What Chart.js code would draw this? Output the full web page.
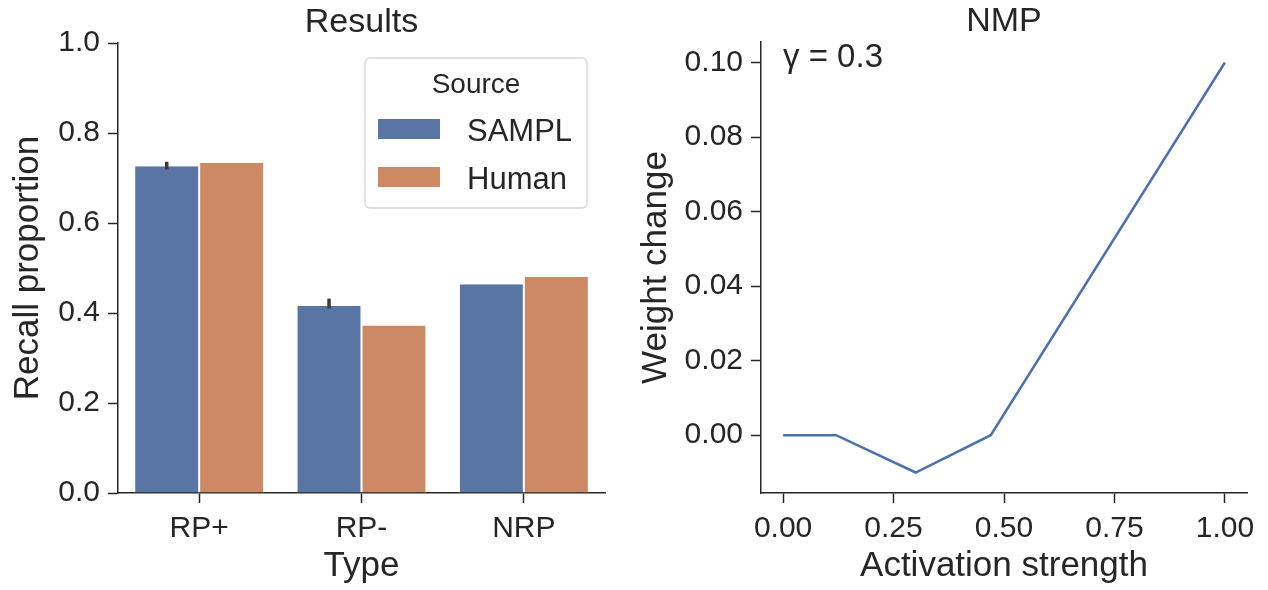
<!DOCTYPE html>
<html>
<head>
<meta charset="utf-8">
<script src="https://cdn.jsdelivr.net/npm/chart.js@4.4.1/dist/chart.umd.min.js"></script>
<style>
  html, body { margin: 0; padding: 0; background: #fff; }
  #wrap { position: relative; width: 1268px; height: 590px; overflow: hidden; }
  #wrap canvas { position: absolute; top: 0; }
  #resultsChart { left: 0; }
  #nmpChart { left: 634px; }
</style>
</head>
<body>
<div id="wrap">
  <canvas id="resultsChart" width="634" height="590"></canvas>
  <canvas id="nmpChart" width="634" height="590"></canvas>
</div>
<script>
// ---- data ----
const types = ['RP+', 'RP-', 'NRP'];
const samplRecall = [0.726, 0.416, 0.464];
const humanRecall = [0.734, 0.372, 0.480];
const samplErrLow = [0.719, 0.410, null];
const samplErrHigh = [0.736, 0.432, null];
const recallTicks = [0.0, 0.2, 0.4, 0.6, 0.8, 1.0];

const activation = [0.0, 0.12, 0.3, 0.47, 1.0];
const weightChange = [0.0, 0.0, -0.01, 0.0, 0.1];
const activationTicks = [0.0, 0.25, 0.5, 0.75, 1.0];
const weightTicks = [0.0, 0.02, 0.04, 0.06, 0.08, 0.10];
const gammaLabel = 'γ = 0.3';

const INK = '#262626';
const FONT = 'Arial, "Liberation Sans", Helvetica, sans-serif';
Chart.defaults.font.family = FONT;
Chart.defaults.color = INK;
Chart.defaults.animation = false;

function axis(opts) {
  return {
    grid: { drawOnChartArea: false, drawTicks: true, tickLength: 10, tickWidth: 1.5, color: INK, offset: false },
    border: { display: true, color: INK, width: 1.5 },
    ticks: { font: { size: 30 }, color: INK, padding: 8, autoSkip: false, maxRotation: 0 },
    title: { display: true, text: opts.title, font: { size: 35 }, color: INK, padding: opts.titlePad },
    afterFit(scale) {
      if (opts.width) scale.width = opts.width;
      if (opts.height) scale.height = opts.height;
      scale.paddingTop = 0; scale.paddingBottom = 0;
      scale.paddingLeft = 0; scale.paddingRight = 0;
    },
  };
}

function withTicks(ax, values, digits) {
  ax.afterBuildTicks = (scale) => { scale.ticks = values.map(v => ({ value: v })); };
  ax.ticks.callback = (v) => Number(v).toFixed(digits);
  return ax;
}

// error bars on the SAMPL bars
const errorBars = {
  id: 'errorBars',
  afterDatasetsDraw(chart) {
    const meta = chart.getDatasetMeta(0);
    const y = chart.scales.y;
    const ctx = chart.ctx;
    ctx.save();
    ctx.strokeStyle = '#3c3c3c';
    ctx.lineWidth = 3.5;
    meta.data.forEach((bar, i) => {
      if (samplErrLow[i] == null) return;
      ctx.beginPath();
      ctx.moveTo(bar.x, y.getPixelForValue(samplErrLow[i]));
      ctx.lineTo(bar.x, y.getPixelForValue(samplErrHigh[i]));
      ctx.stroke();
    });
    ctx.restore();
  },
};

// boxed legend with title, like the seaborn one
const boxLegend = {
  id: 'boxLegend',
  afterDraw(chart) {
    const ctx = chart.ctx;
    const area = chart.chartArea;
    const w = 222, h = 150;
    const x0 = area.right - 18 - w;
    const y0 = area.top + 15;
    ctx.save();
    ctx.beginPath();
    ctx.roundRect(x0, y0, w, h, 5);
    ctx.fillStyle = 'rgba(255,255,255,0.85)';
    ctx.fill();
    ctx.strokeStyle = '#d6d6d6';
    ctx.lineWidth = 1.3;
    ctx.stroke();
    ctx.fillStyle = INK;
    ctx.font = '28px ' + FONT;
    ctx.textAlign = 'center';
    ctx.textBaseline = 'alphabetic';
    ctx.fillText('Source', x0 + w / 2, y0 + 35);
    ctx.textAlign = 'left';
    ctx.font = '31px ' + FONT;
    chart.data.datasets.forEach((ds, i) => {
      const cy = y0 + 71 + i * 48;
      ctx.fillStyle = ds.backgroundColor;
      ctx.fillRect(x0 + 13, cy - 10, 62, 20);
      ctx.fillStyle = INK;
      ctx.fillText(ds.label, x0 + 102, cy + 12);
    });
    ctx.restore();
  },
};

new Chart(document.getElementById('resultsChart'), {
  type: 'bar',
  data: {
    labels: types,
    datasets: [
      { label: 'SAMPL', data: samplRecall, backgroundColor: '#5975a4',
        borderColor: '#ffffff', borderWidth: { left: 1, right: 1, top: 0, bottom: 0 }, borderSkipped: 'bottom' },
      { label: 'Human', data: humanRecall, backgroundColor: '#cc8963',
        borderColor: '#ffffff', borderWidth: { left: 1, right: 1, top: 0, bottom: 0 }, borderSkipped: 'bottom' },
    ],
  },
  options: {
    responsive: false,
    categoryPercentage: 0.8,
    barPercentage: 1.0,
    layout: { padding: { left: 0, right: 29, top: 0, bottom: 0 } },
    plugins: {
      legend: { display: false },
      tooltip: { enabled: false },
      title: { display: true, text: 'Results', fullSize: false, color: INK,
        font: { size: 34, weight: 'normal' }, padding: { top: 2, bottom: 0.2 } },
    },
    scales: {
      x: axis({ title: 'Type', height: 97, titlePad: { top: 0, bottom: 3 } }),
      y: Object.assign(withTicks(axis({ title: 'Recall proportion', width: 118, titlePad: { top: 7, bottom: 0 } }), recallTicks, 1),
        { min: 0, max: 1 }),
    },
  },
  plugins: [errorBars, boxLegend],
});

const gammaNote = {
  id: 'gammaNote',
  afterDraw(chart) {
    const ctx = chart.ctx;
    ctx.save();
    ctx.fillStyle = INK;
    ctx.font = '33px ' + FONT;
    ctx.textAlign = 'left';
    ctx.textBaseline = 'alphabetic';
    ctx.fillText(gammaLabel, chart.chartArea.left + 22, 67);
    ctx.restore();
  },
};

new Chart(document.getElementById('nmpChart'), {
  type: 'line',
  data: {
    datasets: [{
      label: 'NMP',
      data: activation.map((a, i) => ({ x: a, y: weightChange[i] })),
      borderColor: '#4c72b0',
      borderWidth: 2.5,
      pointRadius: 0,
      tension: 0,
    }],
  },
  options: {
    responsive: false,
    layout: { padding: { left: 0, right: 21, top: 0, bottom: 0 } },
    plugins: {
      legend: { display: false },
      tooltip: { enabled: false },
      title: { display: true, text: 'NMP', fullSize: false, color: INK,
        font: { size: 34, weight: 'normal' }, padding: { top: 1.2, bottom: 0 } },
    },
    scales: {
      x: Object.assign(withTicks(axis({ title: 'Activation strength', height: 97, titlePad: { top: 0, bottom: 3 } }), activationTicks, 2),
        { type: 'linear', min: -0.05, max: 1.05 }),
      y: Object.assign(withTicks(axis({ title: 'Weight change', width: 127, titlePad: { top: 1.5, bottom: 0 } }), weightTicks, 2),
        { min: -0.0155, max: 0.1055 }),
    },
  },
  plugins: [gammaNote],
});
</script>
</body>
</html>
